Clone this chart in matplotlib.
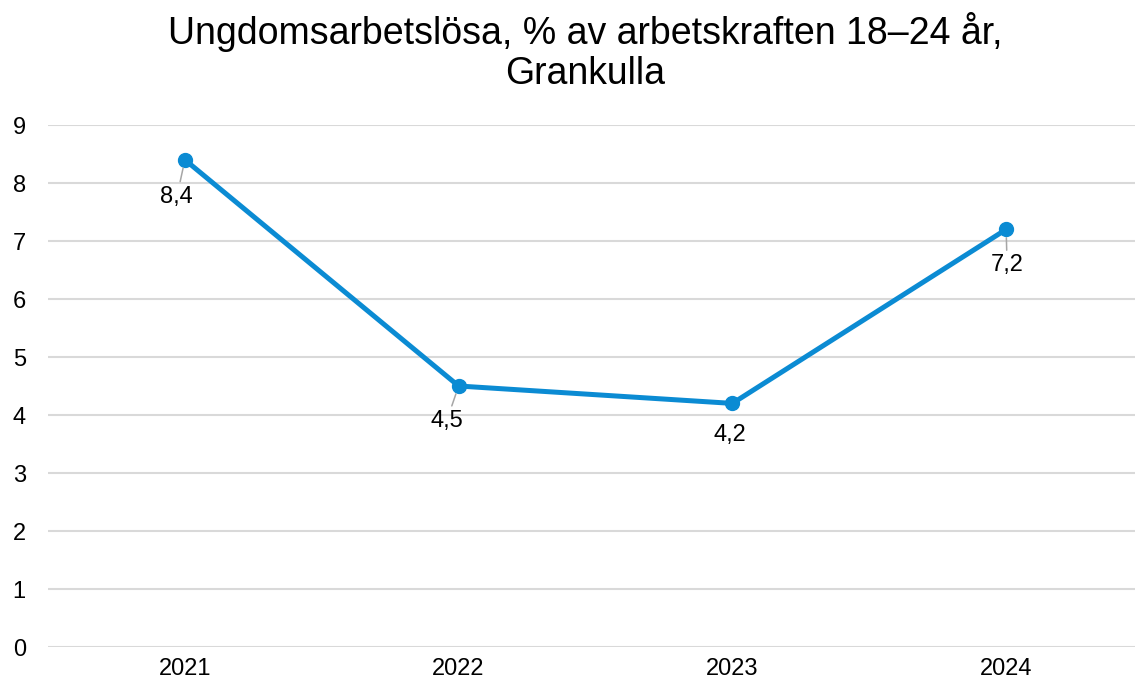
"""Youth unemployment line chart, Grankulla 2021-2024."""

import matplotlib.pyplot as plt

plt.rcParams["font.family"] = ["Liberation Sans", "DejaVu Sans"]

# Data
years = ["2021", "2022", "2023", "2024"]
values = [8.4, 4.5, 4.2, 7.2]
value_labels = ["8,4", "4,5", "4,2", "7,2"]

# Label placement relative to each point (pixels), and whether a leader line shows
label_offsets = [(-8, -37), (-12, -35), (-2, -32), (1, -36)]
show_leader = [True, True, False, True]

LINE_COLOR = "#0b8bd3"
GRID_COLOR = "#d9d9d9"

fig = plt.figure(figsize=(11.35, 6.84), dpi=100)
ax = fig.add_axes([48 / 1135, 1 - 647 / 684, (1143 - 48) / 1135, (647 - 125) / 684])

x = list(range(len(years)))
ax.plot(x, values, color=LINE_COLOR, linewidth=3.6, marker="o",
        markersize=10, solid_capstyle="round", zorder=3, clip_on=False)

for xi, v, lbl, (dx, dy), leader in zip(x, values, value_labels, label_offsets, show_leader):
    ax.annotate(
        lbl, xy=(xi, v), xytext=(dx, dy), textcoords="offset pixels",
        ha="center", va="center", fontsize=17, color="#000000",
        arrowprops=dict(arrowstyle="-", color="#a6a6a6", lw=1.1,
                        shrinkA=1, shrinkB=6) if leader else None,
        zorder=4,
    )

ax.set_xlim(-0.5, 3.5)
ax.set_ylim(0, 9)
ax.set_xticks(x)
ax.set_xticklabels(years)
ax.set_yticks(range(0, 10))

ax.grid(axis="y", color=GRID_COLOR, linewidth=1.5)
ax.set_axisbelow(True)
for s in ax.spines.values():
    s.set_visible(False)
ax.tick_params(axis="both", length=0, labelsize=17, colors="#000000")
ax.tick_params(axis="y", pad=16)
ax.tick_params(axis="x", pad=8)

fig.text(585 / 1135, 1 - 52 / 684,
         "Ungdomsarbetslösa, % av arbetskraften 18–24 år,\nGrankulla",
         ha="center", va="center", fontsize=27, linespacing=1.15)

fig.savefig("out.png", dpi=100)
